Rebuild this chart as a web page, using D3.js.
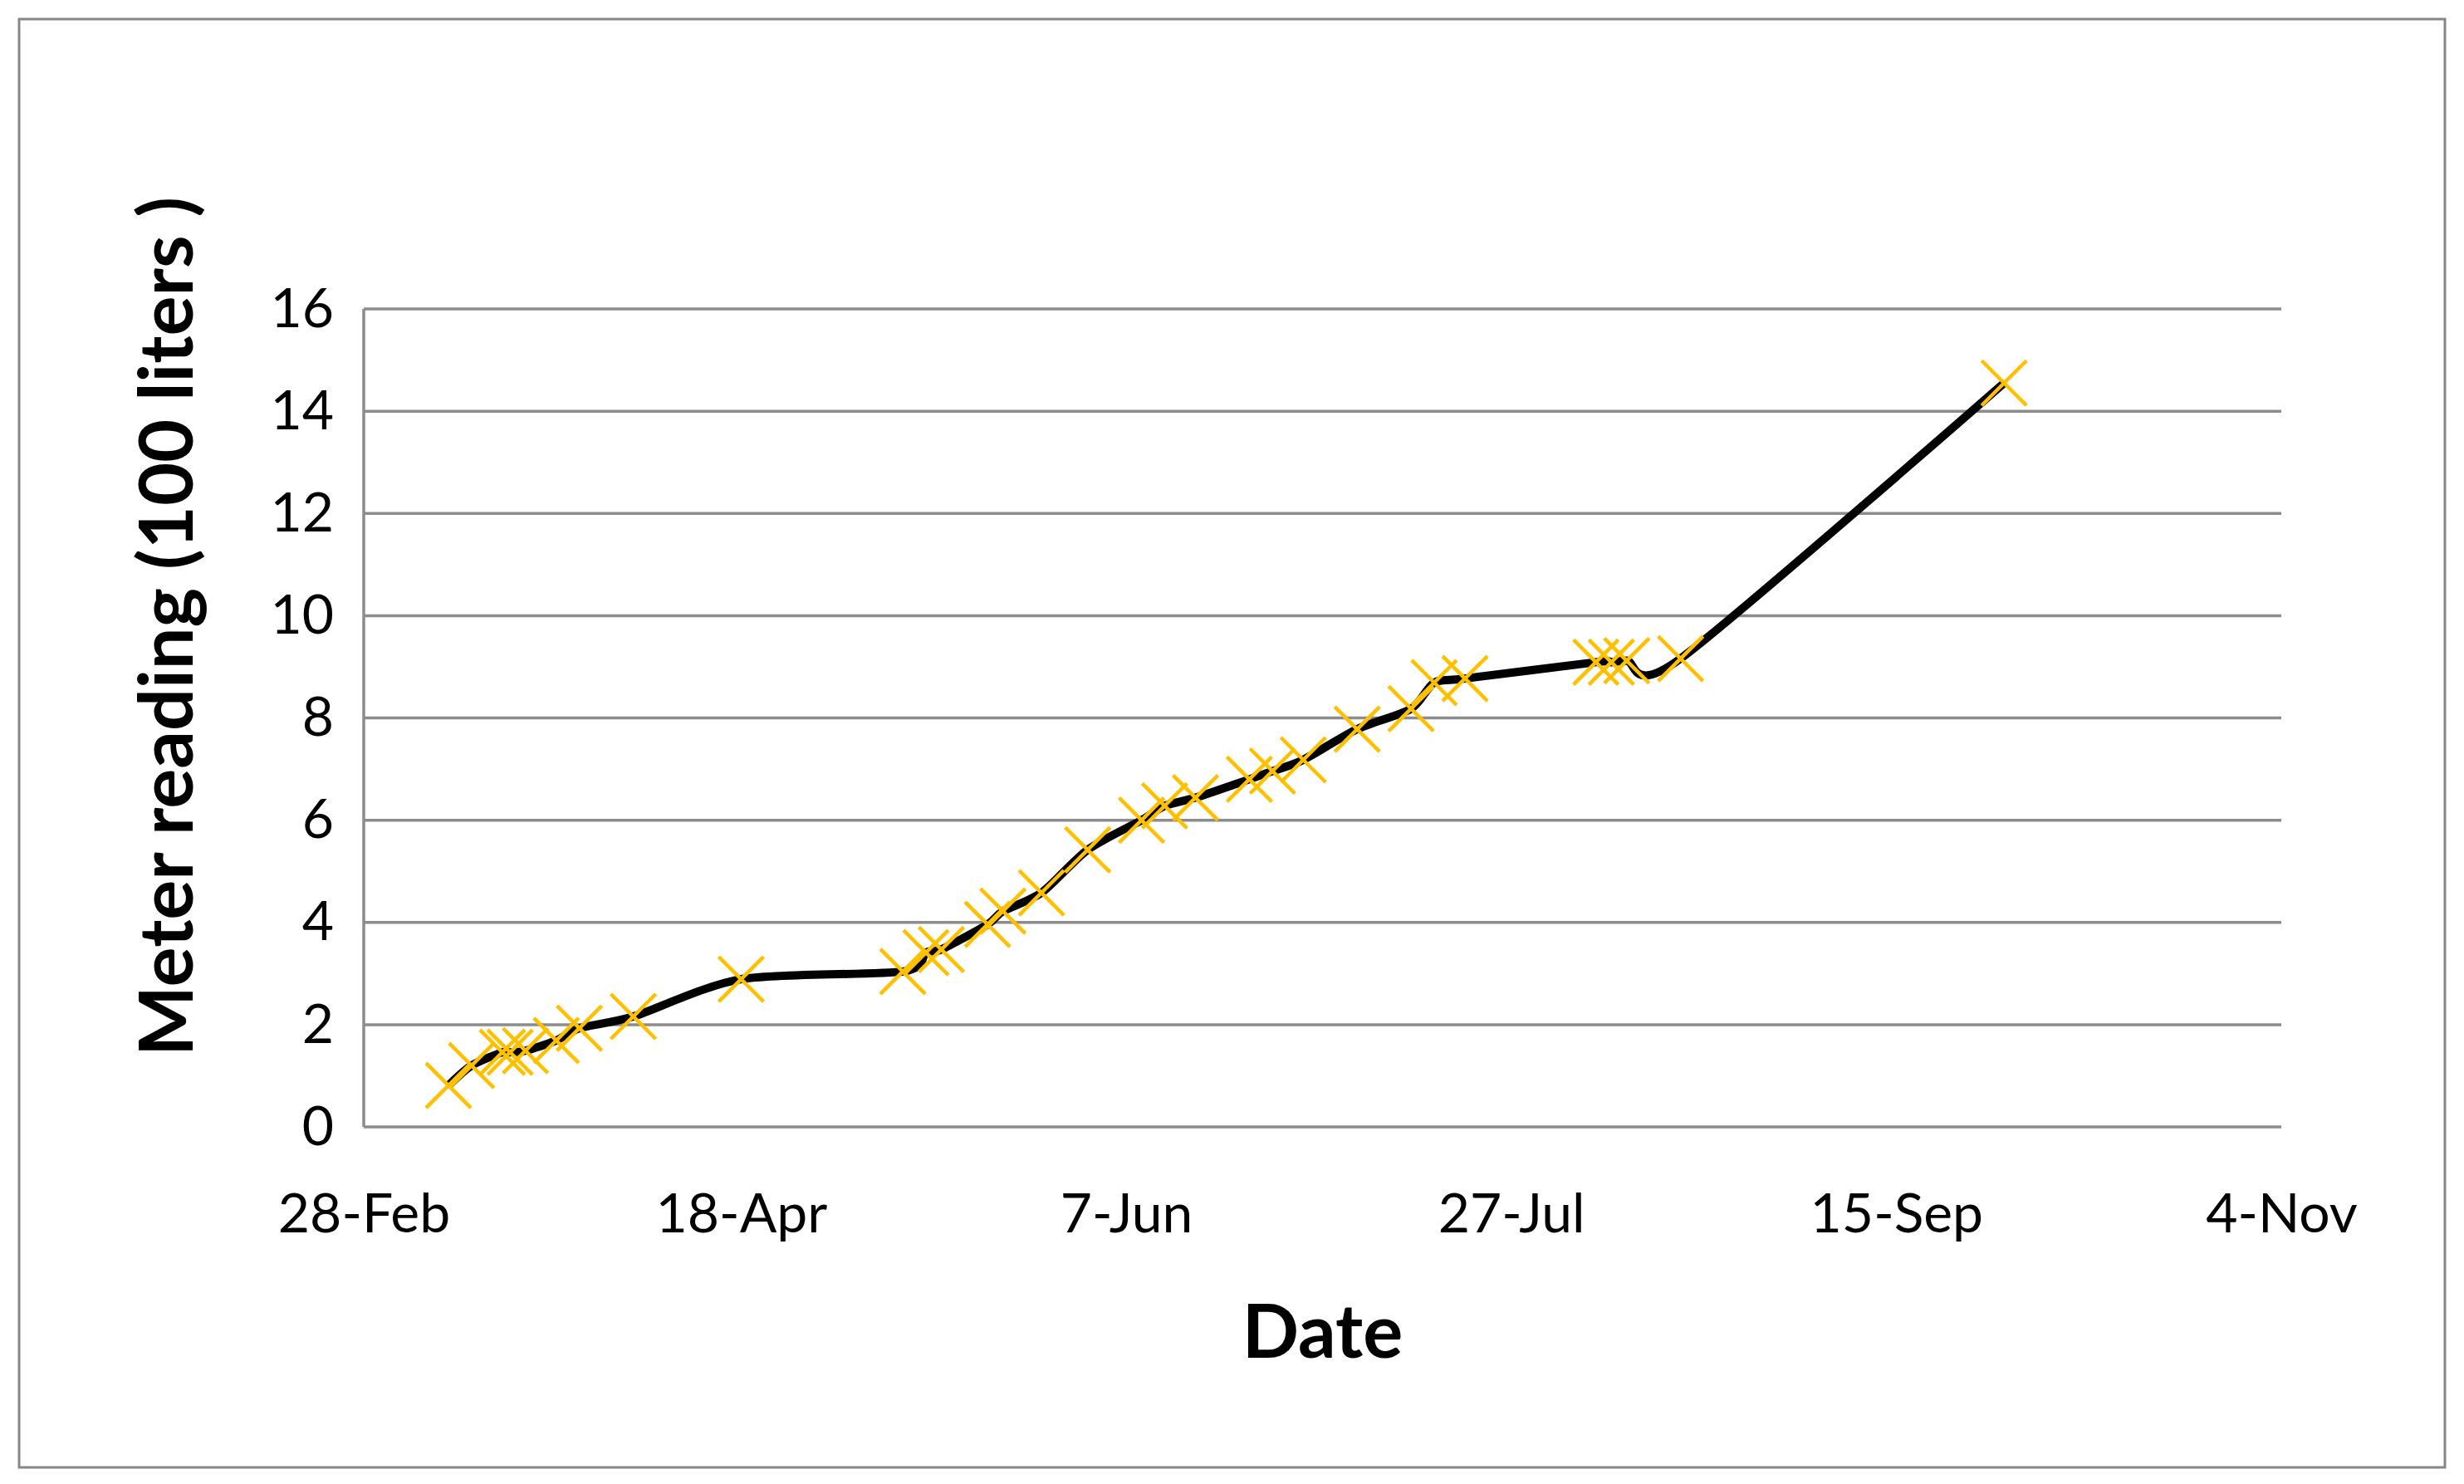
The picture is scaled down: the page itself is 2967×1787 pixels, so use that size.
<!DOCTYPE html>
<html>
<head>
<meta charset="utf-8">
<script src="https://cdn.jsdelivr.net/npm/d3@7"></script>
<style>
  body { margin: 0; background: #fff; }
  text { font-family: Lato, "Open Sans", sans-serif; fill: #000; }
</style>
</head>
<body>
<div id="chart"></div>
<script>
// readings (date, meter value in 100 liters)
var dates = ["2014-03-11", "2014-03-14", "2014-03-18", "2014-03-19", "2014-03-21", "2014-03-25",
  "2014-03-28", "2014-04-04", "2014-04-18", "2014-05-09", "2014-05-12", "2014-05-14",
  "2014-05-20", "2014-05-22", "2014-05-27", "2014-06-02", "2014-06-09", "2014-06-12",
  "2014-06-16", "2014-06-23", "2014-06-26", "2014-06-30", "2014-07-07", "2014-07-14",
  "2014-07-17", "2014-07-21", "2014-08-07", "2014-08-09", "2014-08-11", "2014-08-18",
  "2014-09-29"];
var readings = [0.81, 1.2, 1.46, 1.46, 1.49, 1.69, 1.93, 2.16, 2.89, 3.04, 3.41, 3.47,
  3.96, 4.22, 4.58, 5.42, 6.0, 6.28, 6.44, 6.8, 6.96, 7.18, 7.78, 8.18,
  8.69, 8.77, 9.09, 9.09, 9.12, 9.16, 14.55];
var xTickDates = ["2014-02-28", "2014-04-18", "2014-06-07", "2014-07-27", "2014-09-15", "2014-11-04"];
var yTicks = [0, 2, 4, 6, 8, 10, 12, 14, 16];

var svgWidth = 2967, svgHeight = 1787;
var margin = { top: 372, right: 220, bottom: 430, left: 438 };
var width = svgWidth - margin.left - margin.right;
var height = svgHeight - margin.top - margin.bottom;

var parse = d3.timeParse("%Y-%m-%d");
var fmt = d3.timeFormat("%-d-%b");
var data = dates.map(function (d, i) { return { date: parse(d), value: readings[i] }; });

var svg = d3.select("#chart").append("svg")
  .attr("width", svgWidth).attr("height", svgHeight);

// outer frame
svg.append("rect").attr("x", 23).attr("y", 23)
  .attr("width", 2921).attr("height", 1744)
  .attr("fill", "none").attr("stroke", "#878787").attr("stroke-width", 3);

var g = svg.append("g").attr("transform", `translate(${margin.left}, ${margin.top})`);

var x = d3.scaleTime()
  .domain([parse(xTickDates[0]), parse(xTickDates[xTickDates.length - 1])])
  .range([0, width]);
var y = d3.scaleLinear().domain([0, 16]).range([height, 0]);

// gridlines
g.selectAll("line.grid").data(yTicks).enter().append("line")
  .attr("x1", 0).attr("x2", width)
  .attr("y1", function (d) { return y(d); }).attr("y2", function (d) { return y(d); })
  .attr("stroke", "#8c8c8c").attr("stroke-width", 3.5);

// y axis line
g.append("line").attr("x1", 0).attr("x2", 0).attr("y1", 0).attr("y2", height)
  .attr("stroke", "#8c8c8c").attr("stroke-width", 3.5);

var yAxis = g.append("g").call(d3.axisLeft(y).tickValues(yTicks).tickSize(0).tickPadding(36));
yAxis.select(".domain").remove();
yAxis.selectAll("text").style("font-size", "66px").attr("font-family", "Lato");

var xAxis = g.append("g").attr("transform", `translate(0, ${height})`)
  .call(d3.axisBottom(x).tickValues(xTickDates.map(parse)).tickFormat(fmt).tickSize(0).tickPadding(80));
xAxis.select(".domain").remove();
xAxis.selectAll("text").style("font-size", "66px").attr("font-family", "Lato");

// line
var line = d3.line()
  .x(function (d) { return x(d.date); })
  .y(function (d) { return y(d.value); })
  .curve(d3.curveCardinal.tension(0.2));
g.append("path").datum(data).attr("d", line)
  .attr("fill", "none").attr("stroke", "#000").attr("stroke-width", 10);

// X markers
var s = 27;
var marks = g.selectAll("g.mark").data(data).enter().append("g")
  .attr("transform", function (d) { return `translate(${x(d.date)}, ${y(d.value)})`; });
marks.append("path")
  .attr("d", `M${-s},${-s}L${s},${s}M${-s},${s}L${s},${-s}`)
  .attr("stroke", "#FFC000").attr("stroke-width", 4.5).attr("fill", "none");

// axis titles
svg.append("text").attr("x", margin.left + width / 2).attr("y", 1635)
  .attr("text-anchor", "middle").style("font-size", "90px").style("font-weight", "bold")
  .text("Date");
svg.append("text")
  .attr("transform", `translate(232, ${margin.top + height / 2 - 110}) rotate(-90)`)
  .attr("text-anchor", "middle").style("font-size", "90px").style("font-weight", "bold")
  .text("Meter reading  (100 liters )");
</script>
</body>
</html>
